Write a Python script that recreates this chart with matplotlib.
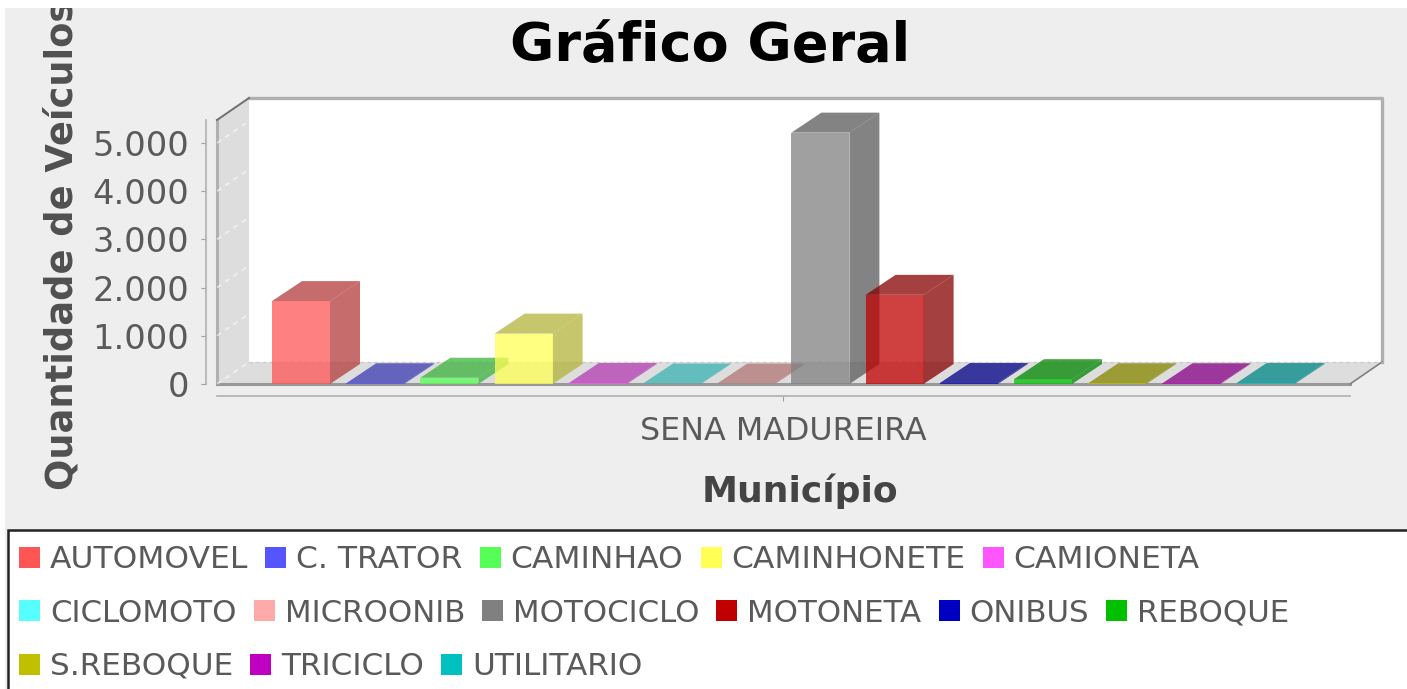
import matplotlib
matplotlib.use('Agg')
import matplotlib.pyplot as plt
from matplotlib.patches import Polygon, Rectangle
from matplotlib.ticker import FuncFormatter

categorias = ['AUTOMOVEL', 'C. TRATOR', 'CAMINHAO', 'CAMINHONETE', 'CAMIONETA', 'CICLOMOTO', 'MICROONIB',
              'MOTOCICLO', 'MOTONETA', 'ONIBUS', 'REBOQUE', 'S.REBOQUE', 'TRICICLO', 'UTILITARIO']
valores = [1720, 15, 130, 1045, 20, 10, 10, 5215, 1850, 20, 100, 15, 15, 20]
cores = ['#FF5555', '#5555FF', '#55FF55', '#FFFF55', '#FF55FF', '#55FFFF', '#FFAAAA',
         '#808080', '#C00000', '#0000C0', '#00C000', '#C0C000', '#C000C0', '#00C0C0']
municipio = 'SENA MADUREIRA'
ticks_y = [0, 1000, 2000, 3000, 4000, 5000]

W, H = 1407, 689
FUNDO = '#EEEEEE'
TEXTO = '#5A5A5A'

# escala: 74.2 px por categoria, 48.2 px por 1000 veiculos
PX_X = 74.2
PX_Y = 0.0482
DX_BARRA, DY_BARRA = 30 / PX_X, 20 / PX_Y
DX_PAREDE, DY_PAREDE = 32 / PX_X, 22 / PX_Y
LARG = 58 / PX_X

fig = plt.figure(figsize=(W / 100, H / 100), dpi=100, facecolor=FUNDO)
ax = fig.add_axes([217 / W, (H - 384) / H, (1350 - 217) / W, (384 - 120) / H])
ax.set_xlim(-84 / PX_X, (1350 - 301) / PX_X)
ax.set_ylim(0, 264 / PX_Y)
ax.patch.set_visible(False)

x0, x1 = ax.get_xlim()
y1 = ax.get_ylim()[1]
ax.add_patch(Polygon([(x0 + DX_PAREDE, DY_PAREDE), (x1 + DX_PAREDE, DY_PAREDE),
                      (x1 + DX_PAREDE, y1 + DY_PAREDE), (x0 + DX_PAREDE, y1 + DY_PAREDE)],
                     fc='white', ec='none', clip_on=False, zorder=1))
ax.plot([x0 + DX_PAREDE, x1 + DX_PAREDE, x1 + DX_PAREDE], [y1 + DY_PAREDE, y1 + DY_PAREDE, DY_PAREDE],
        color='#B0B0B0', lw=2.4, clip_on=False, zorder=1.05)
ax.add_patch(Polygon([(x0, 0), (x1, 0), (x1 + DX_PAREDE, DY_PAREDE), (x0 + DX_PAREDE, DY_PAREDE)],
                     fc='#DDDDDD', ec='none', clip_on=False, zorder=1.1))
ax.add_patch(Polygon([(x0, 0), (x0 + DX_PAREDE, DY_PAREDE), (x0 + DX_PAREDE, y1 + DY_PAREDE), (x0, y1)],
                     fc='#DDDDDD', ec='none', clip_on=False, zorder=1.1))
ax.plot([x0, x0], [0, y1], color='#B0B0B0', lw=2.2, clip_on=False, zorder=1.2)
ax.plot([x0, x1], [0, 0], color='#989898', lw=2.2, clip_on=False, zorder=1.2)
ax.plot([x0, x0 + DX_PAREDE], [y1, y1 + DY_PAREDE], color='#707070', lw=1.4, clip_on=False, zorder=1.2)
ax.plot([x1, x1 + DX_PAREDE], [0, DY_PAREDE], color='#808080', lw=1.2, clip_on=False, zorder=1.2)

# grade tracejada na parede e no chao
for t in ticks_y:
    ax.plot([x0, x0 + DX_PAREDE], [t, t + DY_PAREDE], color='white', alpha=0.6, lw=1.2, ls=(0, (3, 3)),
            clip_on=False, zorder=1.3)
ax.plot([x0 + DX_PAREDE, x1 + DX_PAREDE], [DY_PAREDE, DY_PAREDE], color='#C8C8C8', lw=1, ls=(0, (2, 3)),
        clip_on=False, zorder=1.3)


def escurece(cor):
    r, g, b = matplotlib.colors.to_rgb(cor)
    return (r * 0.7, g * 0.7, b * 0.7)


for i, (v, cor) in enumerate(zip(valores, cores)):
    e, d = i - LARG / 2, i + LARG / 2
    z = 2 + i * 0.1
    ax.add_patch(Polygon([(d, 0), (d + DX_BARRA, DY_BARRA), (d + DX_BARRA, v + DY_BARRA), (d, v)],
                         fc=escurece(cor), ec='none', alpha=0.75, clip_on=False, zorder=z))
    ax.add_patch(Polygon([(e, v), (d, v), (d + DX_BARRA, v + DY_BARRA), (e + DX_BARRA, v + DY_BARRA)],
                         fc=escurece(cor), ec='none', alpha=0.75, clip_on=False, zorder=z + 0.01))
    ax.bar(i, v, width=LARG, color=cor, alpha=0.75, zorder=z + 0.02)

for lado in ['top', 'right']:
    ax.spines[lado].set_visible(False)
ax.spines['left'].set_position(('outward', 8))
ax.spines['bottom'].set_position(('outward', 8.5))
ax.spines['left'].set_color('#B0B0B0')
ax.spines['bottom'].set_color('#B0B0B0')
ax.spines['left'].set_linewidth(1.2)
ax.spines['bottom'].set_linewidth(1.2)

ax.set_yticks(ticks_y)
ax.yaxis.set_major_formatter(FuncFormatter(lambda v, p: f'{int(v):,}'.replace(',', '.')))
ax.set_xticks([(len(categorias) - 1) / 2])
ax.set_xticklabels([municipio])
ax.tick_params(axis='y', labelsize=24.2, labelcolor=TEXTO, color='#A0A0A0', length=3.5, pad=8.5)
ax.tick_params(axis='x', labelsize=22.9, labelcolor=TEXTO, color='#A0A0A0', length=3.5, pad=11)

# camada em pixels: titulo, rotulos, legenda e margens brancas
px = fig.add_axes([0, 0, 1, 1], zorder=5)
px.set_xlim(0, W)
px.set_ylim(H, 0)
px.axis('off')

px.text(710, 61, 'Gráfico Geral', fontsize=38.9, fontweight='bold', color='black', ha='center', va='baseline')
px.text(799.5, 502, 'Município', fontsize=26, fontweight='bold', color='#444444', ha='center', va='baseline')
px.text(73, 490, 'Quantidade de Veículos', fontsize=26.5, fontweight='bold', color='#505050', rotation=90,
        ha='left', va='baseline', rotation_mode='anchor', clip_on=True)

px.add_patch(Rectangle((8, 530), W, H, fc='white', ec='#222222', lw=1.8))

# legenda em fluxo, a segunda linha fica um pouco mais estreita na original
tamanhos = [22.6, 22.2, 22.4]
rend = fig.canvas.get_renderer()
lx, ly, linha = 19, 557, 0
for nome, cor in zip(categorias, cores):
    t = px.text(lx + 31, ly + 11, nome, fontsize=tamanhos[linha], color=TEXTO, ha='left', va='baseline')
    larg = t.get_window_extent(rend).width
    if lx + 31 + larg > W - 20:
        lx, ly, linha = 19, ly + 53.5, linha + 1
        t.set_position((lx + 31, ly + 11))
        t.set_fontsize(tamanhos[linha])
        larg = t.get_window_extent(rend).width
    px.add_patch(Rectangle((lx, ly - 10.5), 21, 21, fc=cor, ec='none'))
    lx += 31 + larg + 17

px.add_patch(Rectangle((0, 0), W, 8, fc='white', ec='none', zorder=10))
px.add_patch(Rectangle((0, 0), 5, H, fc='white', ec='none', zorder=10))

fig.savefig('out.png', dpi=100, facecolor=FUNDO)
